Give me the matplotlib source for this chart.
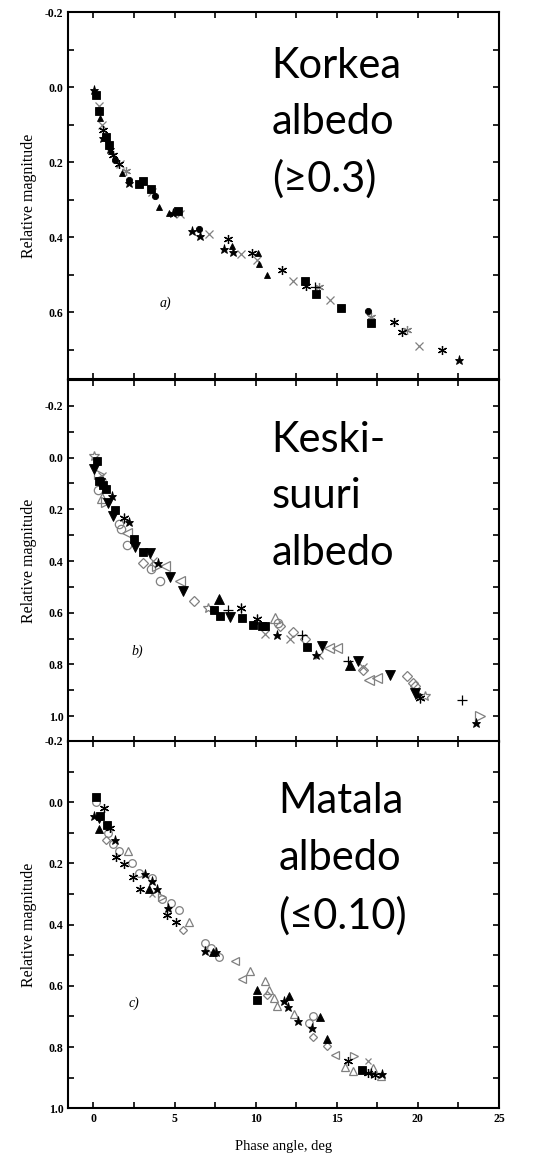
import matplotlib
matplotlib.use("Agg")
import matplotlib.pyplot as plt
from matplotlib.ticker import MultipleLocator, FormatStrFormatter

plt.rcParams['axes.unicode_minus'] = False

# ---- panel a) high albedo ----
a_square = ([0.16, 0.33, 0.78, 0.94, 2.83, 3.04, 3.53, 5.24, 13.04, 13.72, 15.26, 17.1],
            [0.02, 0.063, 0.132, 0.155, 0.257, 0.251, 0.271, 0.331, 0.517, 0.551, 0.589, 0.627])
a_star = ([0.06, 0.57, 1.03, 2.18, 4.93, 6.1, 6.57, 8.05, 8.58, 22.53],
          [0.008, 0.136, 0.165, 0.256, 0.335, 0.383, 0.397, 0.43, 0.44, 0.727])
a_triangle = ([0.41, 1.07, 1.75, 4.07, 4.68, 8.54, 10.16, 10.18, 10.68],
              [0.082, 0.17, 0.229, 0.318, 0.334, 0.424, 0.442, 0.47, 0.499])
a_circle = ([1.33, 2.22, 3.82, 6.53, 16.94],
            [0.193, 0.246, 0.291, 0.377, 0.596])
a_aster = ([0.62, 1.19, 1.58, 8.28, 9.77, 11.6, 13.1, 18.54, 19.0, 21.48],
           [0.115, 0.182, 0.204, 0.405, 0.441, 0.486, 0.529, 0.625, 0.651, 0.7])
a_aster_grey = ([2.01, 13.9, 17.08, 19.35],
                [0.224, 0.532, 0.611, 0.647])
a_cross = ([0.37, 0.51, 1.65, 3.6, 5.34, 7.15, 9.1, 10.1, 12.28, 14.58, 20.04],
           [0.05, 0.10, 0.204, 0.28, 0.337, 0.39, 0.443, 0.459, 0.517, 0.567, 0.688])
a_plus = ([13.65], [0.532])

# ---- panel b) medium albedo ----
b_square = ([0.2, 0.35, 0.62, 0.8, 1.33, 2.53, 3.08, 7.43, 7.8, 9.18, 9.86, 10.37, 10.6, 13.18],
            [0.013, 0.09, 0.107, 0.12, 0.203, 0.316, 0.364, 0.589, 0.611, 0.621, 0.648, 0.653, 0.65, 0.733])
b_dtri = ([0.04, 0.4, 0.92, 1.23, 2.57, 3.49, 4.72, 5.54, 8.42, 14.07, 16.32, 18.28, 19.8],
          [0.046, 0.1, 0.177, 0.224, 0.345, 0.37, 0.46, 0.516, 0.617, 0.728, 0.788, 0.84, 0.91])
b_star = ([1.13, 2.22, 4.0, 11.29, 13.72, 20.0, 23.61],
          [0.148, 0.251, 0.409, 0.688, 0.763, 0.917, 1.026])
b_triangle = ([7.76, 15.81], [0.548, 0.801])
b_aster = ([1.89, 9.08, 10.06, 20.16], [0.233, 0.583, 0.624, 0.93])
b_plus = ([8.32, 12.83, 15.71, 22.69], [0.589, 0.688, 0.788, 0.936])
b_cross = ([0.5, 3.7, 10.57, 12.11, 13.9, 16.63],
           [0.07, 0.4, 0.682, 0.702, 0.763, 0.808])
b_ocircle = ([0.3, 1.6, 1.68, 2.09, 3.53, 4.1, 11.4],
             [0.126, 0.257, 0.278, 0.338, 0.432, 0.477, 0.64])
b_odiamond = ([3.08, 6.22, 11.5, 12.32, 13.04, 16.6, 19.34, 19.71, 19.8],
              [0.406, 0.554, 0.652, 0.673, 0.702, 0.823, 0.846, 0.872, 0.885])
b_otri = ([0.5, 11.19], [0.155, 0.621])
b_oltri = ([2.05, 4.41, 5.34, 14.5, 14.99, 17.0, 17.45],
           [0.293, 0.419, 0.476, 0.737, 0.737, 0.859, 0.852])
b_ortri = ([0.37, 0.8, 3.9, 23.82], [0.062, 0.17, 0.42, 1.0])
b_ostar = ([0.06, 7.04, 20.43], [-0.005, 0.583, 0.923])

# ---- panel c) low albedo ----
c_square = ([0.14, 0.4, 0.86, 10.06, 16.53], [-0.017, 0.046, 0.076, 0.647, 0.875])
c_triangle = ([0.33, 3.45, 7.39, 10.06, 12.07, 13.96, 14.4],
              [0.087, 0.282, 0.491, 0.613, 0.633, 0.703, 0.775])
c_star = ([0.06, 1.33, 3.18, 3.59, 3.94, 4.62, 6.88, 7.55, 11.75, 12.01, 12.59, 13.45, 17.8],
          [0.046, 0.122, 0.233, 0.258, 0.285, 0.345, 0.486, 0.491, 0.649, 0.67, 0.716, 0.739, 0.888])
c_dtri = ([0.33], [0.057])
c_aster = ([0.66, 1.03, 1.4, 1.89, 2.46, 2.87, 4.52, 5.07, 15.71, 16.9, 17.35],
           [0.018, 0.084, 0.178, 0.203, 0.243, 0.285, 0.37, 0.391, 0.845, 0.884, 0.89])
c_plus = ([17.1], [0.886])
c_cross = ([3.59, 16.94], [0.3, 0.845])
c_ocircle = ([0.16, 0.9, 1.2, 1.6, 2.38, 2.83, 3.6, 4.25, 4.76, 5.3, 6.88, 7.23, 7.74, 13.55, 13.3],
             [0.0, 0.1, 0.135, 0.158, 0.198, 0.23, 0.248, 0.315, 0.328, 0.352, 0.461, 0.475, 0.505, 0.698, 0.722])
c_odiamond = ([0.8, 5.5, 10.68, 13.51, 14.37], [0.122, 0.417, 0.63, 0.766, 0.796])
c_otri = ([2.11, 5.89, 9.65, 10.57, 10.84, 11.1, 11.29, 12.36, 15.5, 16.0, 17.25, 17.7],
          [0.158, 0.393, 0.551, 0.584, 0.613, 0.64, 0.665, 0.692, 0.866, 0.878, 0.867, 0.895])
c_oltri = ([8.73, 9.14, 14.89], [0.518, 0.576, 0.826])
c_ortri = ([4.2, 16.06], [0.31, 0.828])

GREY = '#808080'
ASTER = (6, 2, 0)


def filled(ax, pts, marker, ms):
	ax.plot(pts[0], pts[1], linestyle='none', marker=marker, ms=ms, color='black',
		markeredgewidth=0.6)


def hollow(ax, pts, marker, ms):
	ax.plot(pts[0], pts[1], linestyle='none', marker=marker, ms=ms, markerfacecolor='none',
		markeredgecolor=GREY, markeredgewidth=0.9)


def lines(ax, pts, marker, ms, color):
	ax.plot(pts[0], pts[1], linestyle='none', marker=marker, ms=ms, color=color,
		markeredgewidth=0.9)


def style(ax, ylim, bottom_labels):
	ax.set_xlim(-1.55, 25)
	ax.set_ylim(ylim[1], ylim[0])
	ax.xaxis.set_major_locator(MultipleLocator(5))
	ax.xaxis.set_minor_locator(MultipleLocator(2.5))
	ax.yaxis.set_major_locator(MultipleLocator(0.2))
	ax.yaxis.set_minor_locator(MultipleLocator(0.1))
	ax.yaxis.set_major_formatter(FormatStrFormatter('%.1f'))
	ax.tick_params(which='both', direction='in', top=True, right=True, length=4.5, width=1.2)
	ax.tick_params(axis='x', labelbottom=bottom_labels)
	for lab in ax.get_yticklabels() + ax.get_xticklabels():
		lab.set_fontfamily('Liberation Serif')
		lab.set_fontweight('bold')
		lab.set_fontsize(8.5)
	for sp in ax.spines.values():
		sp.set_linewidth(1.5)
	ax.set_ylabel('Relative magnitude', family='Liberation Serif', fontsize=11.5, labelpad=6)


fig = plt.figure(figsize=(5.49, 11.54), dpi=100)
axa = fig.add_axes([0.1244, 0.6716, 0.7845, 0.318])
axb = fig.add_axes([0.1244, 0.357, 0.7845, 0.3137])
axc = fig.add_axes([0.1244, 0.0396, 0.7845, 0.3183])

# panel a
lines(axa, a_cross, 'x', 5.5, GREY)
lines(axa, a_aster_grey, ASTER, 6.5, GREY)
lines(axa, a_aster, ASTER, 6.5, 'black')
lines(axa, a_plus, '+', 7, 'black')
filled(axa, a_triangle, '^', 5)
filled(axa, a_circle, 'o', 4.5)
filled(axa, a_star, '*', 6.5)
filled(axa, a_square, 's', 5.5)
style(axa, (-0.2, 0.777), False)
axa.text(4.1, 0.575, 'a)', family='Liberation Serif', style='italic', fontsize=10, va='center')

# panel b
hollow(axb, b_ocircle, 'o', 6)
hollow(axb, b_odiamond, 'D', 5)
hollow(axb, b_otri, '^', 6.5)
hollow(axb, b_oltri, '<', 6.5)
hollow(axb, b_ortri, '>', 6.5)
hollow(axb, b_ostar, '*', 7)
lines(axb, b_cross, 'x', 6, GREY)
lines(axb, b_aster, ASTER, 7, 'black')
lines(axb, b_plus, '+', 7, 'black')
filled(axb, b_triangle, '^', 6.5)
filled(axb, b_dtri, 'v', 7)
filled(axb, b_star, '*', 6.5)
filled(axb, b_square, 's', 6)
style(axb, (-0.3, 1.1), False)
axb.text(2.36, 0.75, 'b)', family='Liberation Serif', style='italic', fontsize=10, va='center')

# panel c
hollow(axc, c_ocircle, 'o', 5.5)
hollow(axc, c_odiamond, 'D', 4.5)
hollow(axc, c_otri, '^', 6)
hollow(axc, c_oltri, '<', 6)
hollow(axc, c_ortri, '>', 6)
lines(axc, c_cross, 'x', 5, GREY)
lines(axc, c_aster, ASTER, 6.5, 'black')
lines(axc, c_plus, '+', 6.5, 'black')
filled(axc, c_triangle, '^', 5.5)
filled(axc, c_dtri, 'v', 5)
filled(axc, c_star, '*', 6.5)
filled(axc, c_square, 's', 5.5)
style(axc, (-0.2, 1.0), True)
axc.text(2.14, 0.656, 'c)', family='Liberation Serif', style='italic', fontsize=10, va='center')
axc.set_xlabel('Phase angle, deg', family='Liberation Serif', fontsize=10.5, labelpad=11)

# big annotations, one line at a time at its baseline (pixel rows of the reference)
W, H = 549.0, 1154.0
big = [('Korkea', 271.7, 78.3), ('albedo', 271.7, 134), ('(\u22650.3)', 271.7, 192),
	('Keski-', 271.7, 451.7), ('suuri', 271.7, 508), ('albedo', 271.7, 565),
	('Matala', 278.3, 813.3), ('albedo', 278.3, 870), ('(\u22640.10)', 278.3, 928.3)]
for txt, px, py in big:
	fig.text(px / W, 1 - py / H, txt, family=['Lato', 'DejaVu Sans'], fontsize=30,
		va='baseline', ha='left')

fig.savefig('out.png', dpi=100)
